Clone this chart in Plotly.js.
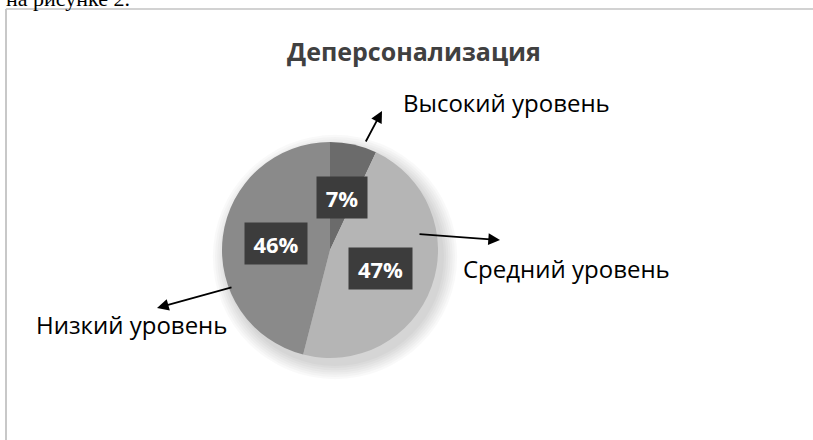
<!DOCTYPE html>
<html>
<head>
<meta charset="utf-8">
<script src="https://cdn.plot.ly/plotly-3.0.1.min.js"></script>
<style>html,body{margin:0;padding:0;background:#fff;}#chart{width:813px;height:440px;}</style>
</head>
<body>
<div id="chart"></div>
<script>
// ---- data ----
const chartTitle = 'Деперсонализация';
const categories = ['Высокий уровень', 'Средний уровень', 'Низкий уровень'];
const percents = [7, 47, 46];
const percentLabels = ['7%', '47%', '46%'];
const pageCaption = 'на рисунке 2.';

// ---- style / geometry ----
const W = 813, H = 440;
const CX = 330, CY = 250, R = 108;
const sliceColors = ['#6b6b6b', '#b5b5b5', '#8a8a8a'];
const labelFrac = 0.5;
const boxW = [50, 63, 62];
const calloutText = [ {x: 401, y: 102}, {x: 461, y: 268}, {x: 34, y: 324} ];
const calloutArrow = [
  {hx: 382, hy: 111, tx: 365, ty: 143},
  {hx: 500, hy: 240, tx: 418, ty: 234},
  {hx: 157, hy: 308, tx: 233, ty: 287}
];
const FONT = 'Open Sans, Noto Sans, DejaVu Sans, sans-serif';

const px = x => x / W;
const py = y => 1 - y / H;

const trace = {
  type: 'pie',
  values: percents,
  labels: categories,
  sort: false,
  direction: 'clockwise',
  rotation: 0,
  textinfo: 'none',
  hoverinfo: 'skip',
  showlegend: false,
  marker: {colors: sliceColors, line: {width: 0}},
  domain: {x: [px(CX - R), px(CX + R)], y: [py(CY + R), py(CY - R)]}
};

const total = percents.reduce((a, b) => a + b, 0);
const annotations = [];
let cum = 0;
percents.forEach((v, i) => {
  const mid = (cum + v / 2) / total * 2 * Math.PI;
  cum += v;
  const lx = CX + labelFrac * R * Math.sin(mid);
  const ly = CY - labelFrac * R * Math.cos(mid);
  annotations.push({
    x: px(lx), y: py(ly), xref: 'paper', yref: 'paper',
    xanchor: 'center', yanchor: 'middle', showarrow: false,
    text: '<b>' + percentLabels[i] + '</b>',
    font: {family: FONT, size: 22, color: '#ffffff'},
    bgcolor: '#3c3c3c', width: boxW[i], height: 41, borderpad: 0
  });
  annotations.push({
    x: px(calloutText[i].x), y: py(calloutText[i].y), xref: 'paper', yref: 'paper',
    xanchor: 'left', yanchor: 'middle', showarrow: false,
    text: categories[i],
    font: {family: FONT, size: 24, color: '#000000'}
  });
  const a = calloutArrow[i];
  annotations.push({
    x: px(a.hx), y: py(a.hy), xref: 'paper', yref: 'paper',
    ax: a.tx - a.hx, ay: a.ty - a.hy, axref: 'pixel', ayref: 'pixel',
    text: '', showarrow: true, arrowhead: 2, arrowsize: 1.3, arrowwidth: 1.8,
    arrowcolor: '#000000', standoff: 0, startstandoff: 0
  });
});
annotations.push({
  x: px(5), y: py(12), xref: 'paper', yref: 'paper', xanchor: 'left', yanchor: 'bottom',
  showarrow: false, text: pageCaption, borderpad: 0,
  font: {family: 'Liberation Serif, Times New Roman, serif', size: 22, color: '#000'}
});

const shapes = [];
for (let k = 0; k < 7; k++) {
  const r = R + 1 + k * 2.2;
  shapes.push({type: 'circle', xref: 'paper', yref: 'paper', layer: 'below',
    x0: px(CX + 5 - r), x1: px(CX + 5 + r), y0: py(CY + 7 + r), y1: py(CY + 7 - r),
    fillcolor: 'rgba(0,0,0,0.025)', line: {width: 0}});
}
shapes.push({type: 'line', xref: 'paper', yref: 'paper', x0: px(6), x1: 1, y0: py(9), y1: py(9),
  line: {color: '#d2d2d2', width: 2}});
shapes.push({type: 'line', xref: 'paper', yref: 'paper', x0: px(6), x1: px(6), y0: py(9), y1: 0,
  line: {color: '#c8c8c8', width: 2}});

const layout = {
  width: W, height: H,
  margin: {l: 0, r: 0, t: 0, b: 0},
  paper_bgcolor: '#ffffff',
  title: {text: '<b>' + chartTitle + '</b>', x: px(414), xanchor: 'center', y: py(52), yanchor: 'middle',
    font: {family: FONT, size: 25, color: '#404040'}},
  annotations: annotations,
  shapes: shapes
};

Plotly.newPlot('chart', [trace], layout, {displayModeBar: false, staticPlot: true});
</script>
</body>
</html>
